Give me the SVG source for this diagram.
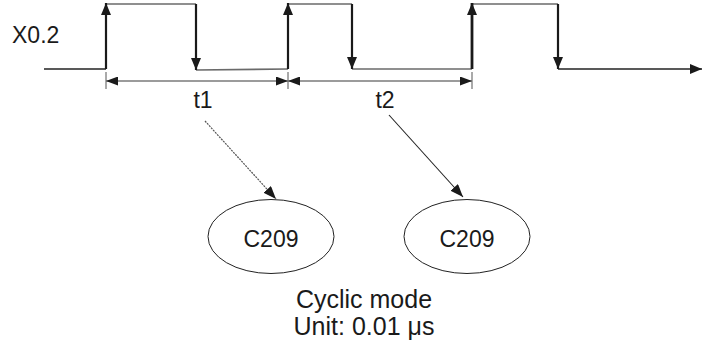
<svg xmlns="http://www.w3.org/2000/svg" width="702" height="352" viewBox="0 0 702 352">
<defs>
<style>
.txt{font-family:"Liberation Sans",Arial,sans-serif;fill:#1a1a1a}
.edge{stroke:#1a1a1a;stroke-width:2.2;fill:none}
.lvl{stroke:#6a6a6a;stroke-width:1.6;fill:none}
.base{stroke:#222;stroke-width:1.6;fill:none}
.dim{stroke:#7a7a7a;stroke-width:1.6;fill:none}
.tick{stroke:#555;stroke-width:1;fill:none}
.node{fill:#fff;stroke:#222;stroke-width:1}
</style>
<marker id="ah" markerUnits="userSpaceOnUse" markerWidth="12" markerHeight="12" viewBox="0 0 12 10" refX="12" refY="5" orient="auto">
<path d="M0,0 L12,5 L0,10 Z" fill="#1a1a1a"/>
</marker>
<marker id="dh" markerUnits="userSpaceOnUse" markerWidth="12" markerHeight="9" viewBox="0 0 12 9" refX="12" refY="4.5" orient="auto">
<path d="M0,0 L12,4.5 L0,9 Z" fill="#1a1a1a"/>
</marker>
<marker id="sh" markerUnits="userSpaceOnUse" markerWidth="13" markerHeight="10" viewBox="0 0 13 10" refX="13" refY="5" orient="auto">
<path d="M0,0 L13,5 L0,10 Z" fill="#1a1a1a"/>
</marker>
</defs>

<g id="waveform">
<path class="base" d="M44,69 H106"/>
<path class="lvl" d="M106,4 H196"/>
<path class="lvl" d="M196,70 L288,69"/>
<path class="lvl" d="M288,4 H352"/>
<path class="lvl" d="M352,69 H472"/>
<path class="lvl" d="M472,4 H558"/>
<path class="base" d="M558,69 H702" marker-end="url(#ah)"/>
<path class="edge" d="M106,69 V3" marker-end="url(#ah)"/>
<path class="edge" d="M196,4 V70" marker-end="url(#ah)"/>
<path class="edge" d="M288,69 V3" marker-end="url(#ah)"/>
<path class="edge" d="M352,4 V69" marker-end="url(#ah)"/>
<path class="edge" d="M472,69 V3" style="stroke-width:2.8" marker-end="url(#ah)"/>
<path class="edge" d="M558,4 V69" marker-end="url(#ah)"/>
</g>

<g id="dimensions">
<path class="tick" d="M106,72 V89 M288,72 V89 M472,72 V89"/>
<path class="dim" d="M197,81 H106" marker-end="url(#dh)"/>
<path class="dim" d="M197,81 H288" marker-end="url(#dh)"/>
<path class="dim" d="M380,81 H288" marker-end="url(#dh)"/>
<path class="dim" d="M380,81 H472" marker-end="url(#dh)"/>
</g>

<g id="labels">
<text class="txt" x="12" y="43" font-size="23">X0.2</text>
<text class="txt" x="203" y="108" font-size="23" text-anchor="middle">t1</text>
<text class="txt" x="385" y="108" font-size="23" text-anchor="middle">t2</text>
</g>

<g id="connectors">
<path d="M205,121 L276,199" stroke="#555" stroke-width="1.2" stroke-dasharray="2,1" fill="none" marker-end="url(#sh)"/>
<path d="M389,115 L463,197" stroke="#222" stroke-width="1.1" fill="none" marker-end="url(#sh)"/>
</g>

<g id="c209a">
<ellipse class="node" cx="271" cy="236.5" rx="63" ry="37"/>
<text class="txt" x="271" y="247" font-size="23" text-anchor="middle">C209</text>
</g>

<g id="c209b">
<ellipse class="node" cx="467" cy="236.5" rx="63" ry="37"/>
<text class="txt" x="467" y="247" font-size="23" text-anchor="middle">C209</text>
</g>

<g id="caption">
<text class="txt" x="364" y="308" font-size="25" text-anchor="middle">Cyclic mode</text>
<text class="txt" x="364" y="335" font-size="25" text-anchor="middle">Unit: 0.01 μs</text>
</g>
</svg>
